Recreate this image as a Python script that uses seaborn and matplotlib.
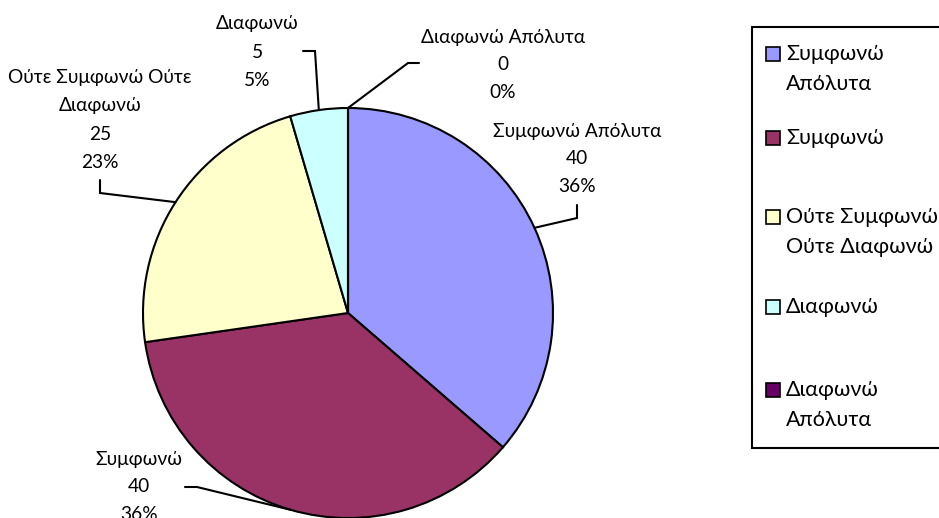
import matplotlib
matplotlib.use("Agg")
import matplotlib.pyplot as plt
from matplotlib.patches import Rectangle
import numpy as np
import seaborn as sns

# Survey responses
categories = ["Συμφωνώ Απόλυτα", "Συμφωνώ", "Ούτε Συμφωνώ Ούτε Διαφωνώ",
              "Διαφωνώ", "Διαφωνώ Απόλυτα"]
counts = [40, 40, 25, 5, 0]
label_names = [["Συμφωνώ Απόλυτα"], ["Συμφωνώ"], ["Ούτε Συμφωνώ Ούτε", "Διαφωνώ"],
               ["Διαφωνώ"], ["Διαφωνώ Απόλυτα"]]
legend_names = [["Συμφωνώ", "Απόλυτα"], ["Συμφωνώ"], ["Ούτε Συμφωνώ", "Ούτε Διαφωνώ"],
                ["Διαφωνώ"], ["Διαφωνώ", "Απόλυτα"]]
colors = ["#9999FF", "#993366", "#FFFFCC", "#CCFFFF", "#660066"]

sns.set_theme(style="white")
plt.rcParams["font.family"] = ["Lato", "DejaVu Sans"]

W, H = 939, 518
fig = plt.figure(figsize=(W / 100, H / 100), dpi=100)
ax = fig.add_axes([0, 0, 1, 1])


def py(y):
    """Convert a top-down pixel row to the axes' y coordinate."""
    return H - y


palette = sns.color_palette(colors)
cx, cy, r = 348, 313, 205
wedges, _ = ax.pie(counts, colors=palette, startangle=90, counterclock=False,
                   center=(cx, py(cy)), radius=r, frame=True,
                   wedgeprops=dict(edgecolor="black", linewidth=1.5))
ax.set_xlim(0, W)
ax.set_ylim(0, H)
ax.set_aspect("equal")
ax.axis("off")

total = sum(counts)
fs = 13.8
fs_legend = 15.5

# label placement: text centre x, first line row, elbow point, end of leader
label_layout = [
    dict(x=577, y0=131, elbow=(577, 218), end=(577, 205)),
    dict(x=139, y0=459, elbow=(197, 487), end=(185, 487)),
    dict(x=100, y0=78, elbow=(100, 193), end=(100, 180)),
    dict(x=257, y0=24, elbow=(315, 51), end=(303, 51)),
    dict(x=503, y0=37, elbow=(408, 63), end=(419, 63)),
]
step = 28
for w, names, v, lay in zip(wedges, label_names, counts, label_layout):
    lines = names + [f"{v}", f"{round(v / total * 100)}%"]
    for i, t in enumerate(lines):
        ax.text(lay["x"], py(lay["y0"] + i * step), t, ha="center", va="center",
                fontsize=fs, color="black")
    mid = np.deg2rad((w.theta1 + w.theta2) / 2)
    px = cx + r * np.cos(mid)
    pyy = py(cy) + r * np.sin(mid)
    ex, ey = lay["elbow"]
    tx, ty = lay["end"]
    ax.plot([px, ex, tx], [pyy, py(ey), py(ty)], color="black", lw=1.5,
            solid_joinstyle="miter", clip_on=False)

# legend box with its entries
ax.add_patch(Rectangle((752, py(448)), 300, 448 - 27, facecolor="white",
                       edgecolor="black", linewidth=1.5, clip_on=False))
entry_rows = [54, 138, 217, 307, 390]
for names, c, y0 in zip(legend_names, colors, entry_rows):
    ax.add_patch(Rectangle((766, py(y0 + 7)), 14, 14, facecolor=c,
                           edgecolor="black", linewidth=1.2))
    for i, t in enumerate(names):
        ax.text(786, py(y0 + i * 30), t, ha="left", va="center",
                fontsize=fs_legend, color="black")

fig.savefig("out.png", dpi=100)
